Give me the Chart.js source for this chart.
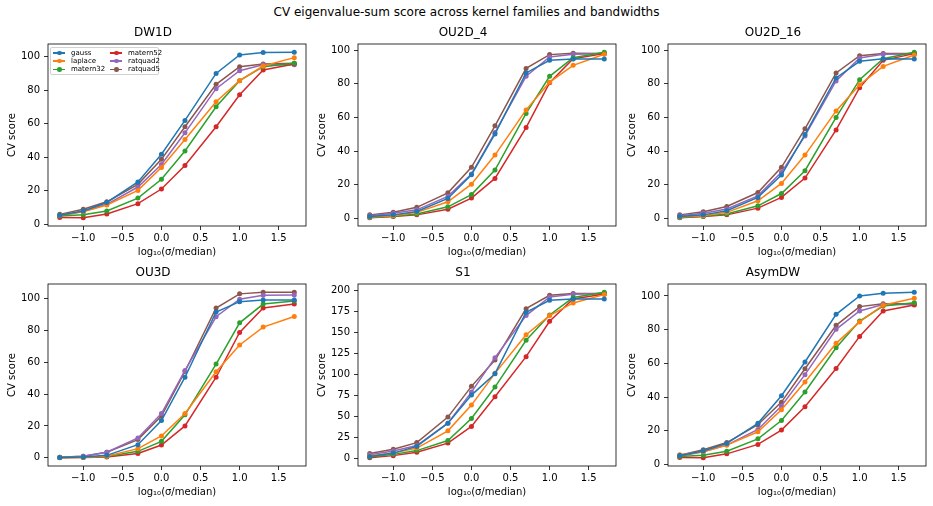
<!DOCTYPE html>
<html>
<head>
<meta charset="utf-8">
<script src="https://cdn.jsdelivr.net/npm/chart.js@4.4.0/dist/chart.umd.min.js"></script>
<style>
  body { margin: 0; background: #fff; width: 933px; height: 506px; position: relative; overflow: hidden; font-family: "DejaVu Sans", sans-serif; }
  .panel { position: absolute; width: 310px; height: 246px; }
  #suptitle { position: absolute; left: 0; top: 4px; width: 933px; text-align: center; font-size: 12px; line-height: 16px; color: #000; }
  #legend { position: absolute; left: 50px; top: 47px; width: 107px; height: 26px; border: 1px solid #d0d0d0; border-radius: 2px; background: rgba(255,255,255,0.8); z-index: 5; }
  .leg-item { position: absolute; height: 8px; font-size: 7px; line-height: 8px; color: #000; white-space: nowrap; }
  .leg-line { position: absolute; left: 0; top: 3.5px; width: 12px; height: 1.5px; }
  .leg-dot { position: absolute; left: 4px; top: 2px; width: 4.5px; height: 4.5px; border-radius: 50%; }
  .leg-text { position: absolute; left: 18px; top: 0; }
</style>
</head>
<body>
<div id="suptitle">CV eigenvalue-sum score across kernel families and bandwidths</div>
<div id="legend"></div>
<script>
  Chart.defaults.font.family = "'DejaVu Sans', sans-serif";
  Chart.defaults.font.size = 10;
  Chart.defaults.color = "#000";

  // log10(sigma / median) bandwidth grid
  const xLog = [-1.301, -1.0, -0.699, -0.301, 0.0, 0.301, 0.699, 1.0, 1.301, 1.699];
  const kernels = ["gauss", "laplace", "matern32", "matern52", "ratquad2", "ratquad5"];
  const kernelColors = ["#1f77b4", "#ff7f0e", "#2ca02c", "#d62728", "#9467bd", "#8c564b"];
  const panelTitles = ["DW1D", "OU2D_4", "OU2D_16", "OU3D", "S1", "AsymDW"];

  const xTicks = [-1.0, -0.5, 0.0, 0.5, 1.0, 1.5];
  const yTicks100 = [0, 20, 40, 60, 80, 100];
  const yTicks200 = [0, 25, 50, 75, 100, 125, 150, 175, 200];

  // rows follow the kernels order
  const dw1dScores = [
    [5.5, 8.0, 13.1, 25.3, 41.8, 62.0, 90.0, 101.0, 102.4, 102.6],
    [5.5, 7.5, 11.6, 20.3, 33.9, 50.6, 73.1, 85.7, 94.4, 99.4],
    [5.0, 5.8, 8.0, 15.7, 26.9, 43.8, 70.1, 85.7, 94.0, 96.0],
    [4.2, 4.0, 6.2, 12.4, 21.1, 35.1, 58.2, 77.3, 92.0, 95.6],
    [5.0, 7.8, 12.0, 22.3, 35.7, 54.6, 80.9, 91.6, 95.2, 95.2],
    [6.0, 9.0, 13.5, 23.9, 38.8, 58.2, 83.5, 94.0, 95.6, 96.0]
  ];
  const ou2d4Scores = [
    [1.0, 2.0, 4.0, 11.8, 25.9, 50.2, 86.5, 94.0, 94.8, 94.8],
    [0.8, 1.5, 3.5, 9.8, 20.3, 37.6, 64.5, 81.0, 91.0, 97.6],
    [0.5, 1.2, 2.5, 6.8, 14.1, 28.7, 62.4, 84.5, 95.6, 98.8],
    [0.3, 1.0, 2.0, 5.4, 12.0, 23.7, 54.0, 80.7, 95.0, 98.0],
    [1.5, 3.0, 5.0, 13.0, 26.3, 51.0, 84.5, 96.0, 97.6, 98.0],
    [2.0, 3.5, 6.5, 15.1, 30.3, 55.0, 89.2, 97.4, 98.2, 98.0]
  ];
  const ou2d16Scores = [
    [1.0, 2.0, 4.5, 12.4, 25.7, 49.8, 83.5, 93.4, 95.0, 94.8],
    [0.8, 1.5, 3.5, 10.4, 20.7, 37.6, 63.9, 79.5, 90.4, 97.2],
    [0.5, 1.2, 2.5, 7.4, 14.7, 28.3, 60.0, 82.5, 95.0, 98.8],
    [0.3, 1.0, 2.0, 6.0, 12.4, 23.9, 52.6, 77.7, 94.0, 98.0],
    [1.5, 3.0, 5.5, 13.3, 27.3, 49.0, 81.7, 95.4, 97.6, 97.8],
    [2.0, 3.8, 7.0, 15.3, 30.3, 53.2, 86.5, 96.8, 98.0, 98.0]
  ];
  const ou3dScores = [
    [0.2, 0.5, 1.5, 8.2, 23.4, 50.6, 91.6, 98.1, 99.2, 99.2],
    [0.1, 0.3, 1.0, 5.7, 13.7, 27.8, 54.0, 70.9, 82.1, 88.8],
    [0.1, 0.3, 0.8, 4.0, 10.3, 27.0, 58.9, 84.8, 96.6, 98.5],
    [0.0, 0.2, 0.5, 2.7, 8.0, 20.0, 50.6, 78.7, 94.1, 96.6],
    [0.3, 1.0, 3.5, 12.4, 27.8, 54.9, 88.6, 99.6, 102.1, 102.3],
    [0.3, 1.0, 3.5, 11.4, 26.2, 54.2, 94.1, 103.0, 104.0, 104.0]
  ];
  const s1Scores = [
    [2.0, 6.0, 14.0, 41.7, 75.1, 100.6, 173.8, 188.0, 189.7, 189.7],
    [2.5, 6.0, 12.0, 32.6, 63.2, 101.0, 147.0, 169.8, 184.9, 194.8],
    [1.5, 4.5, 9.0, 21.0, 47.3, 84.7, 140.4, 170.6, 191.3, 197.6],
    [0.5, 3.0, 7.0, 17.9, 37.8, 73.2, 120.9, 163.0, 189.7, 195.6],
    [4.0, 8.5, 15.0, 41.7, 78.7, 119.7, 169.8, 192.0, 195.2, 196.0],
    [5.5, 10.5, 18.5, 48.9, 85.5, 116.9, 178.1, 194.0, 196.0, 196.0]
  ];
  const asymdwScores = [
    [5.3, 8.0, 12.5, 24.4, 40.8, 60.8, 89.1, 100.0, 101.6, 102.2],
    [5.8, 7.5, 11.5, 19.4, 32.5, 48.9, 71.9, 84.6, 94.5, 98.6],
    [4.8, 5.5, 7.9, 15.2, 26.1, 43.0, 69.3, 85.1, 94.0, 96.0],
    [4.2, 4.0, 6.3, 11.9, 20.4, 34.3, 57.0, 76.0, 91.1, 94.7],
    [4.8, 7.5, 11.5, 20.8, 34.7, 53.3, 80.2, 91.1, 94.9, 94.9],
    [5.5, 8.7, 13.0, 23.6, 37.0, 56.8, 82.6, 93.7, 95.4, 95.4]
  ];

  const panelScores = [dw1dScores, ou2d4Scores, ou2d16Scores, ou3dScores, s1Scores, asymdwScores];
  const panelYTicks = [yTicks100, yTicks100, yTicks100, yTicks100, yTicks200, yTicks100];

  // axes boxes (matplotlib layout)
  const colLeft = [48, 358, 668];
  const rowTop = [44, 284];

  function paddedRange(values) {
    const lo = Math.min(...values);
    const hi = Math.max(...values);
    const p = (hi - lo) * 0.05;
    return [lo - p, hi + p];
  }

  const framePlugin = {
    id: "frame",
    afterDraw(chart) {
      const { ctx, chartArea: a } = chart;
      ctx.save();
      ctx.strokeStyle = "#000";
      ctx.lineWidth = 0.8;
      ctx.strokeRect(a.left, a.top, a.right - a.left, a.bottom - a.top);
      ctx.restore();
    }
  };

  function fmtX(v) {
    return Number(v).toFixed(1).replace("-", "\u2212");
  }

  function renderPanel(i) {
    const col = i % 3;
    const row = Math.floor(i / 3);
    const div = document.createElement("div");
    div.className = "panel";
    div.style.left = (colLeft[col] - 48) + "px";
    div.style.top = (rowTop[row] - 24) + "px";
    const canvas = document.createElement("canvas");
    canvas.width = 310;
    canvas.height = 246;
    div.appendChild(canvas);
    document.body.appendChild(div);

    const scores = panelScores[i];
    const [xMin, xMax] = paddedRange(xLog);
    const [yMin, yMax] = paddedRange(scores.flat());
    const yTicks = panelYTicks[i];

    new Chart(canvas, {
      type: "line",
      data: {
        datasets: kernels.map((k, j) => ({
          label: k,
          data: xLog.map((x, n) => ({ x, y: scores[j][n] })),
          borderColor: kernelColors[j],
          backgroundColor: kernelColors[j],
          borderWidth: 1.5,
          pointRadius: 2.5,
          pointBorderWidth: 0,
          pointBackgroundColor: kernelColors[j],
          tension: 0
        }))
      },
      options: {
        responsive: false,
        animation: false,
        layout: { padding: { left: 0, right: 4, top: 0, bottom: 0 } },
        plugins: {
          legend: { display: false },
          tooltip: { enabled: false },
          title: {
            display: true,
            text: panelTitles[i],
            color: "#000",
            font: { size: 12, weight: "normal", lineHeight: "14px" },
            padding: { top: 6, bottom: 4 }
          }
        },
        scales: {
          x: {
            type: "linear",
            min: xMin,
            max: xMax,
            afterBuildTicks: (s) => { s.ticks = xTicks.map((v) => ({ value: v })); },
            afterFit: (s) => { s.height = 40; },
            ticks: { callback: fmtX, padding: 2, maxRotation: 0, autoSkip: false, color: "#000" },
            grid: { drawOnChartArea: false, tickLength: 4, tickColor: "#000", tickWidth: 0.8 },
            border: { display: false },
            title: {
              display: true,
              text: "log\u2081\u2080(\u03c3/median)",
              color: "#000",
              font: { size: 10, lineHeight: "12px" },
              padding: { top: 0, bottom: 8 }
            }
          },
          y: {
            min: yMin,
            max: yMax,
            afterBuildTicks: (s) => { s.ticks = yTicks.map((v) => ({ value: v })); },
            afterFit: (s) => { s.width = 48; },
            ticks: { callback: (v) => String(v), padding: 4, color: "#000" },
            grid: { drawOnChartArea: false, tickLength: 4, tickColor: "#000", tickWidth: 0.8 },
            border: { display: false },
            title: {
              display: true,
              text: "CV score",
              color: "#000",
              font: { size: 10, lineHeight: "12px" },
              padding: { top: 6, bottom: 0 }
            }
          }
        }
      },
      plugins: [framePlugin]
    });
  }

  function renderLegend() {
    const box = document.getElementById("legend");
    kernels.forEach((k, j) => {
      const item = document.createElement("div");
      item.className = "leg-item";
      item.style.left = (2 + Math.floor(j / 3) * 57) + "px";
      item.style.top = (0.5 + (j % 3) * 8.3) + "px";
      item.innerHTML =
        `<span class="leg-line" style="background:${kernelColors[j]}"></span>` +
        `<span class="leg-dot" style="background:${kernelColors[j]}"></span>` +
        `<span class="leg-text">${k}</span>`;
      box.appendChild(item);
    });
  }

  panelTitles.forEach((_, i) => renderPanel(i));
  renderLegend();
</script>
</body>
</html>
